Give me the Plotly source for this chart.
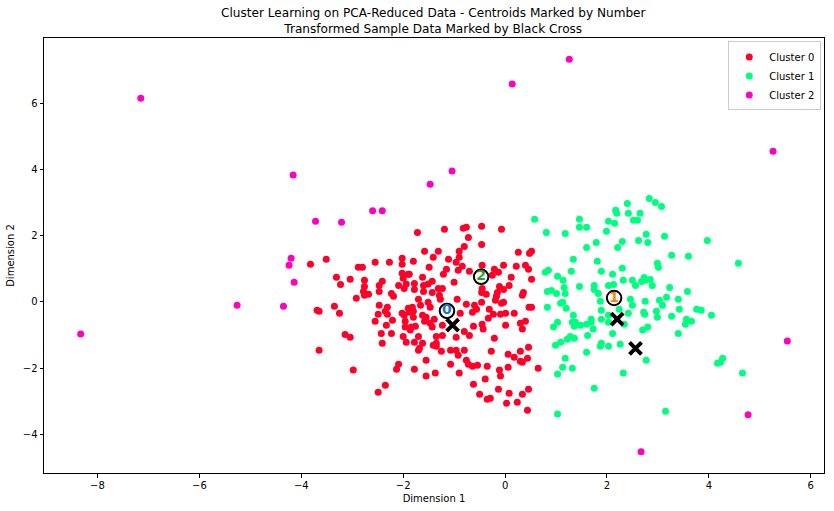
import plotly.graph_objects as go

FONT = "DejaVu Sans"

c0 = [(-3.82,1.14),(-3.51,1.29),(-3.31,.75),(-3.23,.53),(-3.04,.69),(-2.88,1.05),(-2.80,1.05),(-2.55,1.20),(-2.27,1.20),(-2.02,1.32),
(-2.02,1.14),(-2.02,.87),(-2.00,.72),(-1.90,.84),(-2.76,.66),(-2.41,.63),(-2.47,.50),(-2.76,.47),(-2.09,.50),(-1.94,.54),(-1.98,.41),
(-2.47,.32),(-2.78,.32),(-2.76,.20),(-2.68,.23),(-2.92,.11),(-2.23,.26),(-2.19,.17),(-3.35,-.13),(-3.69,-.25),(-3.65,-.28),(-3.25,-.34),
(-2.47,-.10),(-2.31,-.16),(-2.35,-.28),(-2.31,-.37),(-2.49,-.37),(-2.55,-.58),(-2.21,-.55),(-2.33,-.70),(-2.02,-.34),(-1.98,-.40),
(-1.90,-.19),(-1.96,-.58),(-1.96,-.76),(-2.43,-.95),(-2.23,-.95),(-2.00,-1.04),(-1.94,-1.22),(-2.41,-1.25),(-3.14,-.98),(-3.04,-1.07),
(-3.65,-1.46),(-2.98,-2.06),(-2.09,-1.88),(-2.13,-2.03),(-2.35,-2.52),(-2.49,-2.73),
(-1.72,2.10),(-1.19,2.20),(-.82,2.23),(-.76,2.26),(-.46,2.29),(-.07,2.20),(-.72,1.95),(-.46,1.74),(-.80,1.68),(-.90,1.53),(-1.58,1.53),
(-1.31,1.53),(-1.41,1.35),(-.90,1.35),(-1.11,1.29),(-.96,1.20),(-1.80,1.23),(.26,1.50),(.48,1.47),(.52,1.53),(-1.49,1.05),(-.84,1.08),
(-1.15,.99),(-.92,.96),(-1.21,.84),(-.70,.93),(-.45,1.11),(-.21,.99),(-.13,.90),(-.25,.81),(-.03,1.11),(.22,1.08),(.40,1.11),(.46,.99),
(.52,.69),(.12,.75),(.08,.50),(-1.88,.84),(-1.62,.75),(-1.00,.60),(-1.43,.63),(-1.51,.54),(-1.60,.50),(-1.78,.56),(-1.78,.38),(-1.60,.32),
(-1.43,.29),(-1.31,.41),(-1.23,.41),(-1.29,.20),(-1.27,.08),(-1.70,.08),(-1.51,-.01),(-1.66,-.10),(-1.47,-.16),(-1.82,-.16),(-1.80,-.28),
(-1.88,-.31),(-.94,.08),(-.76,-.07),(-.46,-.01),(-.60,-.10),(-.56,-.22),(-.64,-.31),(-.88,-.34),(-.45,.41),(-.46,.29),(-.37,.23),(-.11,.47),
(-.03,.38),(-.15,.29),(-.17,.17),(-.19,.05),(-.07,-.04),(-.03,-.01),(.36,.29),(.34,.20),(.52,-.16),(.47,-.16),(-.31,-.22),(-.23,-.37),(-.33,-.49),
(-.09,-.37),(.01,-.34),(.18,-.34),(.30,-.64),(.40,-.58),(.34,-.82),(.01,-.70),(-.45,-.67),(-.43,-.82),(-.62,-.73),(-.80,-.89),(-.70,-1.01),
(-.96,-1.07),(-1.23,-1.01),(-1.35,-1.04),(-.21,-1.10),(-1.62,-.40),(-1.55,-.46),(-1.39,-.52),(-1.58,-.58),(-1.47,-.64),(-1.43,-.76),(-1.80,-.46),
(-1.84,-.76),(-1.76,-.73),(-1.86,-.85),(-1.23,-.70),(-1.70,-1.04),(-1.78,-1.22),(-1.62,-1.25),(-1.68,-1.40),(-1.70,-1.46),(-1.41,-1.31),
(-1.35,-1.25),(-1.35,-1.34),(-1.25,-1.49),(-1.07,-1.46),(-.96,-1.46),(-.92,-1.61),(-.80,-1.46),(-.27,-1.49),(.06,-1.58),(.18,-1.67),(.30,-1.49),
(.46,-1.37),(.44,-1.70),(.30,-1.79),(.34,-1.82),(.65,-2.00),(.06,-1.97),(-1.55,-1.76),(-1.07,-1.88),(-.76,-1.76),(-.72,-1.88),(-.64,-1.94),
(-.54,-1.91),(-.35,-1.94),(-.11,-2.06),(-.09,-2.24),(-1.78,-2.03),(-1.55,-2.24),(-1.37,-2.15),(-.90,-2.15),(-.62,-2.49),(-.39,-2.33),(-.50,-2.79),
(-.35,-2.94),(-.29,-2.91),(-.13,-2.64),(.08,-2.76),(.03,-3.06),(.24,-3.03),(.34,-2.79),(.46,-2.64),(.44,-3.27)]

c1 = [(.58,2.50),(.81,2.10),(1.18,2.07),(1.46,2.50),(1.46,2.26),(1.60,2.26),(2.03,2.44),(2.15,2.38),(2.17,2.77),(2.19,2.68),(2.40,2.98),
(2.42,2.68),(2.65,2.68),(2.52,2.47),(2.60,2.47),(2.83,3.13),(2.95,3.01),(3.07,2.89),(1.99,2.14),(1.79,1.80),(1.60,1.65),(2.30,1.83),(2.21,1.65),
(2.62,1.86),(2.77,2.05),(2.80,1.80),(3.13,1.99),(3.97,1.86),(4.58,1.17),(3.27,1.41),(3.60,1.38),(2.99,1.17),(3.01,1.05),(1.34,1.29),(1.81,1.23),
(1.89,.93),(1.30,.93),(.79,.90),(.85,.96),(1.03,.78),(1.14,.66),(1.16,.44),(1.18,.26),(1.46,.47),(1.75,.50),(1.75,.38),(1.83,.26),(2.11,.84),
(2.30,1.02),(2.32,.66),(2.03,.50),(2.13,.53),(2.50,.66),(2.56,.50),(2.68,.62),(2.73,.74),(2.75,.66),(2.85,.68),(2.89,.50),(3.23,.44),(3.58,.32),
(.83,.32),(.91,.35),(1.01,.26),(.83,-.16),(1.13,-.01),(1.09,-.04),(1.20,-.19),(1.87,.02),(1.89,-.25),(2.46,.08),(2.50,-.10),(2.75,.02),(3.03,.05),
(3.09,-.10),(3.17,.14),(3.40,.08),(3.42,-.22),(3.76,-.22),(3.85,-.25),(4.05,-.40),(2.97,-.28),(2.99,-.46),(2.72,-.31),(2.74,-.37),(2.42,-.34),
(2.24,-.22),(3.27,-.43),(3.56,-.52),(3.66,-.58),(3.54,-.67),(3.40,-.95),(2.70,-.85),(2.80,-.76),(1.34,-.40),(1.69,-.52),(1.69,-.61),(1.89,-.52),
(2.03,-.40),(2.03,-.61),(2.34,-.67),(1.03,-.61),(.95,-.76),(1.32,-.61),(1.38,-.61),(1.36,-.73),(1.48,-.70),(1.60,-.67),(1.73,-.82),(1.62,-1.01),
(2.11,-.95),(1.28,-1.04),(1.22,-1.13),(1.36,-1.10),(1.09,-1.22),(.99,-1.31),(1.89,-1.25),(1.87,-1.34),(2.03,-1.34),(2.26,-1.28),(1.60,-1.52),
(2.77,-1.76),(1.18,-1.70),(1.13,-1.97),(1.32,-2.00),(1.03,-2.18),(2.32,-2.15),(1.75,-2.61),(1.03,-3.39),(3.15,-3.30),(4.27,-1.70),(4.23,-1.82),
(4.17,-1.85),(4.66,-2.15)]

c2 = [(-3.72,2.44),(-3.21,2.41),(-2.60,2.76),(-2.41,2.76),(-4.20,1.32),(-4.24,1.11),(-4.14,.60),(-5.26,-.10),(-4.35,-.13),(-8.33,-.97),
(-7.15,6.16),(-4.16,3.84),(-1.47,3.56),(-1.04,3.96),(.14,6.59),(1.26,7.34),(5.26,4.56),(5.54,-1.18),(4.77,-3.41),(2.67,-4.53)]

centroids_x = [-1.14, 2.14, -0.47]
centroids_y = [-0.27, 0.12, 0.76]
centroid_labels = ["0", "1", "2"]
centroid_colors = ["#1f77b4", "#ff7f0e", "#2ca02c"]

samples_x = [-1.03, 2.20, 2.56]
samples_y = [-0.70, -0.52, -1.40]

series_names = ["Cluster 0", "Cluster 1", "Cluster 2"]
series_colors = ["#ff0029", "#00ff80", "#ff00bf"]

fig = go.Figure()
for name, col, pts in zip(series_names, series_colors, [c0, c1, c2]):
    fig.add_trace(go.Scatter(x=[p[0] for p in pts], y=[p[1] for p in pts], mode="markers", name=name,
                             marker=dict(color=col, size=7, line=dict(width=0))))
fig.add_trace(go.Scatter(x=centroids_x, y=centroids_y, mode="markers+text", showlegend=False,
                         marker=dict(color="white", size=14.5, line=dict(color="black", width=2)),
                         text=centroid_labels, textposition="middle center",
                         textfont=dict(color=centroid_colors, size=14, family=FONT, weight="bold")))
fig.add_trace(go.Scatter(x=samples_x, y=samples_y, mode="markers", showlegend=False,
                         marker=dict(symbol="x-thin", color="black", size=12, line=dict(color="black", width=4))))

axis = dict(showline=True, mirror=True, linecolor="black", linewidth=1, showgrid=False, zeroline=False,
            automargin=False, ticks="outside", ticklen=3.5, tickwidth=1, tickcolor="black", dtick=2,
            tickfont=dict(size=10, color="black"))
fig.update_layout(
    width=834, height=511, margin=dict(l=44, r=10, t=38, b=38),
    paper_bgcolor="white", plot_bgcolor="white",
    font=dict(family=FONT, size=10, color="black"),
    title=dict(text="Cluster Learning on PCA-Reduced Data - Centroids Marked by Number<br>Transformed Sample Data Marked by Black Cross",
               x=0.5195, xanchor="center", y=0.966, yanchor="bottom", yref="container", font=dict(size=12.1, color="black")),
    xaxis=dict(axis, range=[-9.05, 6.26], tick0=-8, ticklabelstandoff=-1, title=dict(text="Dimension 1", font=dict(size=10), standoff=5)),
    yaxis=dict(axis, range=[-5.17, 7.98], tick0=-4, title=dict(text="Dimension 2", font=dict(size=10), standoff=6)),
    legend=dict(x=0.9965, xanchor="right", y=0.992, yanchor="top", bordercolor="#cccccc", borderwidth=1,
                bgcolor="rgba(255,255,255,0.8)", font=dict(size=10), itemsizing="trace", tracegroupgap=0),
)
fig.write_html("out.html", config={"displayModeBar": False}, post_script="document.body.style.margin='0';")
